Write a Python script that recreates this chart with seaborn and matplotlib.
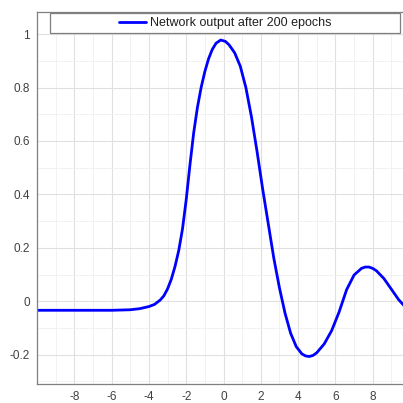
import numpy as np
import pandas as pd
import matplotlib
matplotlib.use("Agg")
import matplotlib.pyplot as plt
from matplotlib.patches import Rectangle
from matplotlib.ticker import MultipleLocator
import seaborn as sns

# Curve
x_vals = [-10, -8, -6, -5, -4.5, -4.0, -3.7, -3.4, -3.2, -3.0, -2.8, -2.6,
          -2.4, -2.2, -2.0, -1.8, -1.6, -1.4, -1.2, -1.0, -0.8, -0.6, -0.4,
          -0.15, 0.1, 0.3, 0.6, 0.9, 1.2, 1.5, 1.8, 2.1, 2.4, 2.7, 3.0, 3.3,
          3.6, 3.9, 4.2, 4.4, 4.6, 4.8, 5.0, 5.4, 5.8, 6.2, 6.6, 7.0, 7.4,
          7.6, 7.8, 8.0, 8.2, 8.6, 9.0, 9.4, 9.7, 10]
y_vals = [-0.034, -0.034, -0.034, -0.032, -0.028, -0.02, -0.012, 0.004, 0.02,
          0.046, 0.082, 0.13, 0.19, 0.27, 0.38, 0.51, 0.63, 0.725, 0.80, 0.86,
          0.908, 0.943, 0.966, 0.978, 0.973, 0.96, 0.93, 0.88, 0.80, 0.69,
          0.56, 0.42, 0.29, 0.16, 0.05, -0.045, -0.12, -0.17, -0.197, -0.205,
          -0.207, -0.203, -0.193, -0.16, -0.11, -0.04, 0.043, 0.098, 0.123,
          0.128, 0.128, 0.123, 0.114, 0.085, 0.045, 0.005, -0.018, -0.035]
x_ticks = [-8, -6, -4, -2, 0, 2, 4, 6, 8]
y_ticks = [-0.2, 0, 0.2, 0.4, 0.6, 0.8, 1]
y_tick_labels = ["-0.2", "0", "0.2", "0.4", "0.6", "0.8", "1"]
label = "Network output after 200 epochs"

df = pd.DataFrame({"x": x_vals, "y": y_vals})

sns.set_theme(style="white")
plt.rcParams["font.family"] = ["Liberation Sans", "DejaVu Sans"]
plt.rcParams["axes.unicode_minus"] = False

fig = plt.figure(figsize=(4.03, 4.03), dpi=100)
ax = fig.add_axes([37 / 403, 19 / 403, 373 / 403, 372 / 403])

sns.lineplot(data=df, x="x", y="y", ax=ax, color="#0000ff", linewidth=2.0,
             label=label, legend=False)

ax.set_xlim(-10, 10)
ax.set_ylim(-0.31, 1.083)
ax.set_xticks(x_ticks)
ax.set_yticks(y_ticks)
ax.set_yticklabels(y_tick_labels)
ax.xaxis.set_minor_locator(MultipleLocator(1))
ax.yaxis.set_minor_locator(MultipleLocator(0.1))
ax.grid(True, which="major", color="#e0e0e0", linewidth=0.8)
ax.grid(True, which="minor", color="#f0f0f0", linewidth=0.6)
ax.set_axisbelow(True)
ax.set_xlabel("")
ax.set_ylabel("")

for s in ax.spines.values():
    s.set_color("#7f7f7f")
    s.set_linewidth(0.9)

ax.tick_params(which="major", direction="in", length=3, width=0.8,
               color="#7f7f7f", labelsize=8.5, labelcolor="#404040",
               top=True, right=True, pad=5)
ax.tick_params(which="minor", length=0)

# legend box spanning the top of the axes
ax.add_patch(Rectangle((0.035, 0.944), 0.938, 0.053, transform=ax.transAxes,
                       facecolor="white", edgecolor="#7f7f7f", linewidth=0.9,
                       zorder=4))
h, l = ax.get_legend_handles_labels()
leg = ax.legend(h, l, loc="center", bbox_to_anchor=(0.504, 0.9705),
                frameon=False, fontsize=9, handlelength=2.2, handletextpad=0.3,
                borderpad=0)
leg.set_zorder(5)
for t in leg.get_texts():
    t.set_color("#202020")

fig.savefig("out.png", dpi=100)
